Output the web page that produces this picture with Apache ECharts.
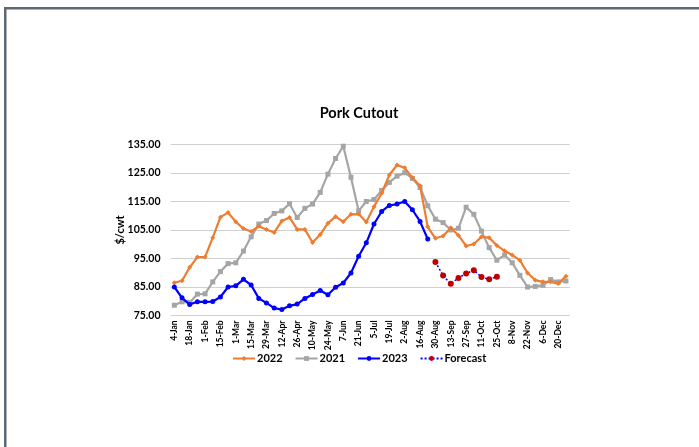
<!DOCTYPE html>
<html>
<head>
<meta charset="utf-8">
<script src="https://cdn.jsdelivr.net/npm/echarts@6/dist/echarts.min.js"></script>
<style>
  html, body { margin: 0; padding: 0; background: #fff; }
  #chart { width: 699px; height: 447px; }
</style>
</head>
<body>
<div id="chart"></div>
<script>
// 周度日期（类目轴）
const weeks = ['4-Jan', '11-Jan', '18-Jan', '25-Jan', '1-Feb', '8-Feb', '15-Feb', '22-Feb',
  '1-Mar', '8-Mar', '15-Mar', '22-Mar', '29-Mar', '5-Apr', '12-Apr', '19-Apr', '26-Apr',
  '3-May', '10-May', '17-May', '24-May', '31-May', '7-Jun', '14-Jun', '21-Jun', '28-Jun',
  '5-Jul', '12-Jul', '19-Jul', '26-Jul', '2-Aug', '9-Aug', '16-Aug', '23-Aug', '30-Aug',
  '6-Sep', '13-Sep', '20-Sep', '27-Sep', '4-Oct', '11-Oct', '18-Oct', '25-Oct', '1-Nov',
  '8-Nov', '15-Nov', '22-Nov', '29-Nov', '6-Dec', '13-Dec', '20-Dec', '27-Dec'];

const y2022 = [86.5, 87.2, 91.9, 95.5, 95.5, 102.3, 109.5, 111.1, 107.9, 105.5, 104.5, 106.3,
  105.2, 104.1, 108.2, 109.4, 105.2, 105.2, 100.6, 103.4, 107.4, 109.7, 107.9, 110.5, 110.6,
  107.8, 113.2, 117.9, 124.3, 127.8, 126.8, 123.3, 120.5, 106.1, 102.1, 102.9, 105.8, 103.1,
  99.4, 100.1, 102.6, 102.3, 99.6, 97.7, 96.2, 94.4, 89.9, 87.4, 86.8, 86.8, 86.2, 88.8];

const y2021 = [78.6, 79.8, 79.6, 82.5, 82.6, 86.8, 90.4, 93.2, 93.5, 97.6, 102.6, 107.1,
  108.3, 110.8, 111.7, 114.2, 109.4, 112.6, 114.1, 118.2, 124.6, 130.1, 134.4, 123.5, 111.7,
  115.0, 115.7, 118.9, 121.7, 123.9, 125.1, 123.1, 119.9, 113.5, 108.8, 107.6, 105.0, 105.6,
  113.0, 110.5, 104.6, 98.8, 94.4, 96.2, 93.5, 89.1, 85.0, 85.2, 85.6, 87.6, 86.8, 87.1];

const y2023 = [85.0, 81.2, 78.9, 79.8, 79.8, 79.9, 81.5, 85.0, 85.4, 87.7, 85.7, 81.0,
  79.4, 77.6, 77.1, 78.4, 79.0, 81.0, 82.4, 83.8, 82.3, 84.9, 86.4, 89.9, 95.8, 100.5,
  107.1, 111.5, 113.6, 114.1, 115.0, 112.1, 108.0, 101.8];

const forecast = [null, null, null, null, null, null, null, null, null, null, null, null,
  null, null, null, null, null, null, null, null, null, null, null, null, null, null,
  null, null, null, null, null, null, null, null,
  93.8, 89.0, 86.1, 88.2, 89.7, 90.9, 88.5, 87.7, 88.6];

const yTicks = { min: 75, max: 135, step: 10 };

const chart = echarts.init(document.getElementById('chart'));
const boldFont = 'Lato, "Open Sans", sans-serif';

const option = {
  backgroundColor: '#fff',
  animation: false,
  textStyle: { fontFamily: boldFont },
  graphic: [
    // 外框（上、左）
    { type: 'rect', shape: { x: 4, y: 7, width: 695, height: 2.5 }, style: { fill: '#5d6873' } },
    { type: 'rect', shape: { x: 4, y: 7, width: 2.5, height: 440 }, style: { fill: '#5d6873' } }
  ],
  title: {
    text: 'Pork Cutout',
    left: 354,
    top: 101,
    textAlign: 'center',
    textStyle: { fontSize: 14.5, fontWeight: 'bold', color: '#000', fontFamily: boldFont }
  },
  legend: {
    left: 227,
    top: 348,
    itemWidth: 22,
    itemHeight: 6,
    itemGap: 12,
    textStyle: { fontSize: 11, fontWeight: 'bold', color: '#000', padding: [0, 0, 0, -3] },
    data: ['2022', '2021', '2023', 'Forecast']
  },
  grid: { left: 170.5, right: 129.2, top: 144.5, bottom: 131.5, containLabel: false },
  xAxis: {
    type: 'category',
    data: weeks,
    boundaryGap: true,
    axisLine: { show: false },
    axisTick: { show: false },
    axisLabel: {
      interval: 1,
      rotate: 90,
      margin: 5,
      fontSize: 8.5,
      fontWeight: 'bold',
      color: '#000'
    }
  },
  yAxis: {
    type: 'value',
    min: yTicks.min,
    max: yTicks.max,
    interval: yTicks.step,
    name: '$/cwt',
    nameLocation: 'middle',
    nameGap: 45,
    nameMoveOverlap: false,
    nameTextStyle: { fontSize: 11, fontWeight: 'bold', color: '#000' },
    axisLine: { show: false },
    axisTick: { show: false },
    axisLabel: {
      margin: 10,
      fontSize: 10.5,
      fontWeight: 'bold',
      color: '#000',
      formatter: v => v.toFixed(2)
    },
    splitLine: { lineStyle: { color: '#d0d0d0', width: 1 } }
  },
  series: [
    {
      name: '2022', type: 'line', data: y2022,
      symbol: 'diamond', symbolSize: 5, showAllSymbol: true,
      lineStyle: { color: '#ed7d31', width: 2.2 },
      itemStyle: { color: '#ed7d31' },
      z: 3
    },
    {
      name: '2021', type: 'line', data: y2021,
      symbol: 'rect', symbolSize: 5, showAllSymbol: true,
      lineStyle: { color: '#a5a5a5', width: 2.2 },
      itemStyle: { color: '#a5a5a5' },
      z: 2
    },
    {
      name: '2023', type: 'line', data: y2023,
      symbol: 'circle', symbolSize: 5, showAllSymbol: true,
      lineStyle: { color: '#0000ff', width: 2.2 },
      itemStyle: { color: '#0000ff' },
      z: 4
    },
    {
      name: 'Forecast', type: 'line', data: forecast,
      symbol: 'circle', symbolSize: 6, showAllSymbol: true,
      lineStyle: { color: '#0000ff', width: 1.5, type: [2, 2] },
      itemStyle: { color: '#c00000' },
      z: 5
    }
  ]
};

chart.setOption(option);
</script>
</body>
</html>
